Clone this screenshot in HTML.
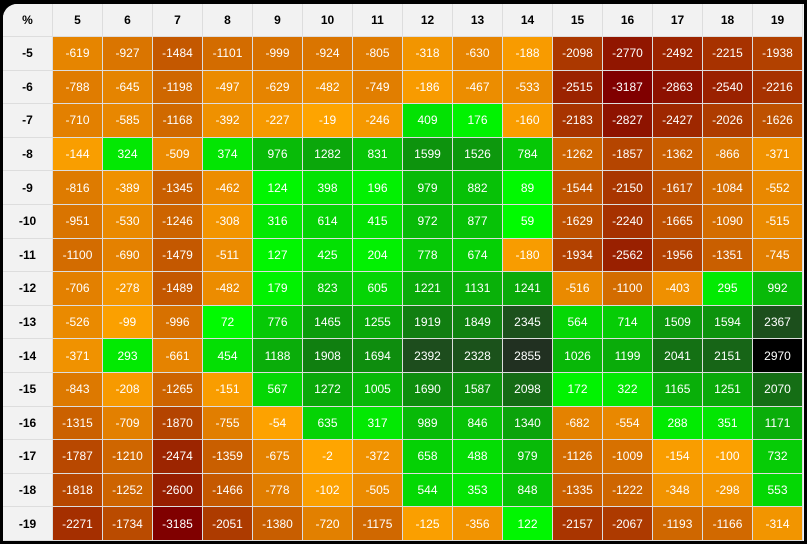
<!DOCTYPE html><html><head><style>
body{margin:0;background:#000;width:807px;height:544px;overflow:hidden}
#w{position:absolute;left:3px;top:4px;width:801px;height:537px;background:#f2f2f2;border-top-left-radius:14px;overflow:hidden}
table{border-collapse:collapse;font-family:"Liberation Sans",sans-serif;font-size:12px;table-layout:fixed;height:537px}
td{border:1px solid #ddd;text-align:center;color:#fff;padding:0;width:49px}
td.h{background:#f2f2f2;color:#000;font-weight:bold}
tr:first-child td{border-top:none}
td:first-child{border-left:none}
</style></head><body><div id="w"><table id="t"></table></div>
<script>
const D=[
[-5,-619,-927,-1484,-1101,-999,-924,-805,-318,-630,-188,-2098,-2770,-2492,-2215,-1938],
[-6,-788,-645,-1198,-497,-629,-482,-749,-186,-467,-533,-2515,-3187,-2863,-2540,-2216],
[-7,-710,-585,-1168,-392,-227,-19,-246,409,176,-160,-2183,-2827,-2427,-2026,-1626],
[-8,-144,324,-509,374,976,1282,831,1599,1526,784,-1262,-1857,-1362,-866,-371],
[-9,-816,-389,-1345,-462,124,398,196,979,882,89,-1544,-2150,-1617,-1084,-552],
[-10,-951,-530,-1246,-308,316,614,415,972,877,59,-1629,-2240,-1665,-1090,-515],
[-11,-1100,-690,-1479,-511,127,425,204,778,674,-180,-1934,-2562,-1956,-1351,-745],
[-12,-706,-278,-1489,-482,179,823,605,1221,1131,1241,-516,-1100,-403,295,992],
[-13,-526,-99,-996,72,776,1465,1255,1919,1849,2345,564,714,1509,1594,2367],
[-14,-371,293,-661,454,1188,1908,1694,2392,2328,2855,1026,1199,2041,2151,2970],
[-15,-843,-208,-1265,-151,567,1272,1005,1690,1587,2098,172,322,1165,1251,2070],
[-16,-1315,-709,-1870,-755,-54,635,317,989,846,1340,-682,-554,288,351,1171],
[-17,-1787,-1210,-2474,-1359,-675,-2,-372,658,488,979,-1126,-1009,-154,-100,732],
[-18,-1818,-1252,-2600,-1466,-778,-102,-505,544,353,848,-1335,-1222,-348,-298,553],
[-19,-2271,-1734,-3185,-2051,-1380,-720,-1175,-125,-356,122,-2157,-2067,-1193,-1166,-314]];
function m(a,b,t){return a.map((x,i)=>Math.round(x+(b[i]-x)*t))}
const G=[[0,[0,255,0]],[1000,[8,185,8]],[1900,[16,128,16]],[2350,[28,80,28]],[2850,[34,50,34]],[2970,[0,0,0]]];
function col(v){if(v<0){let t=Math.min(1,-v/3187);return m([255,165,0],[128,0,0],t)}
for(let i=1;i<G.length;i++){if(v<=G[i][0]){return m(G[i-1][1],G[i][1],(v-G[i-1][0])/(G[i][0]-G[i-1][0]))}}return [0,0,0]}
let h='<tr><td class="h">%</td>';for(let i=5;i<=19;i++)h+='<td class="h">'+i+'</td>';h+='</tr>';
for(const r of D){h+='<tr><td class="h">'+r[0]+'</td>';for(let i=1;i<r.length;i++){h+='<td style="background:rgb('+col(r[i])+')">'+r[i]+'</td>'}h+='</tr>'}
document.getElementById('t').innerHTML=h;
</script></body></html>
